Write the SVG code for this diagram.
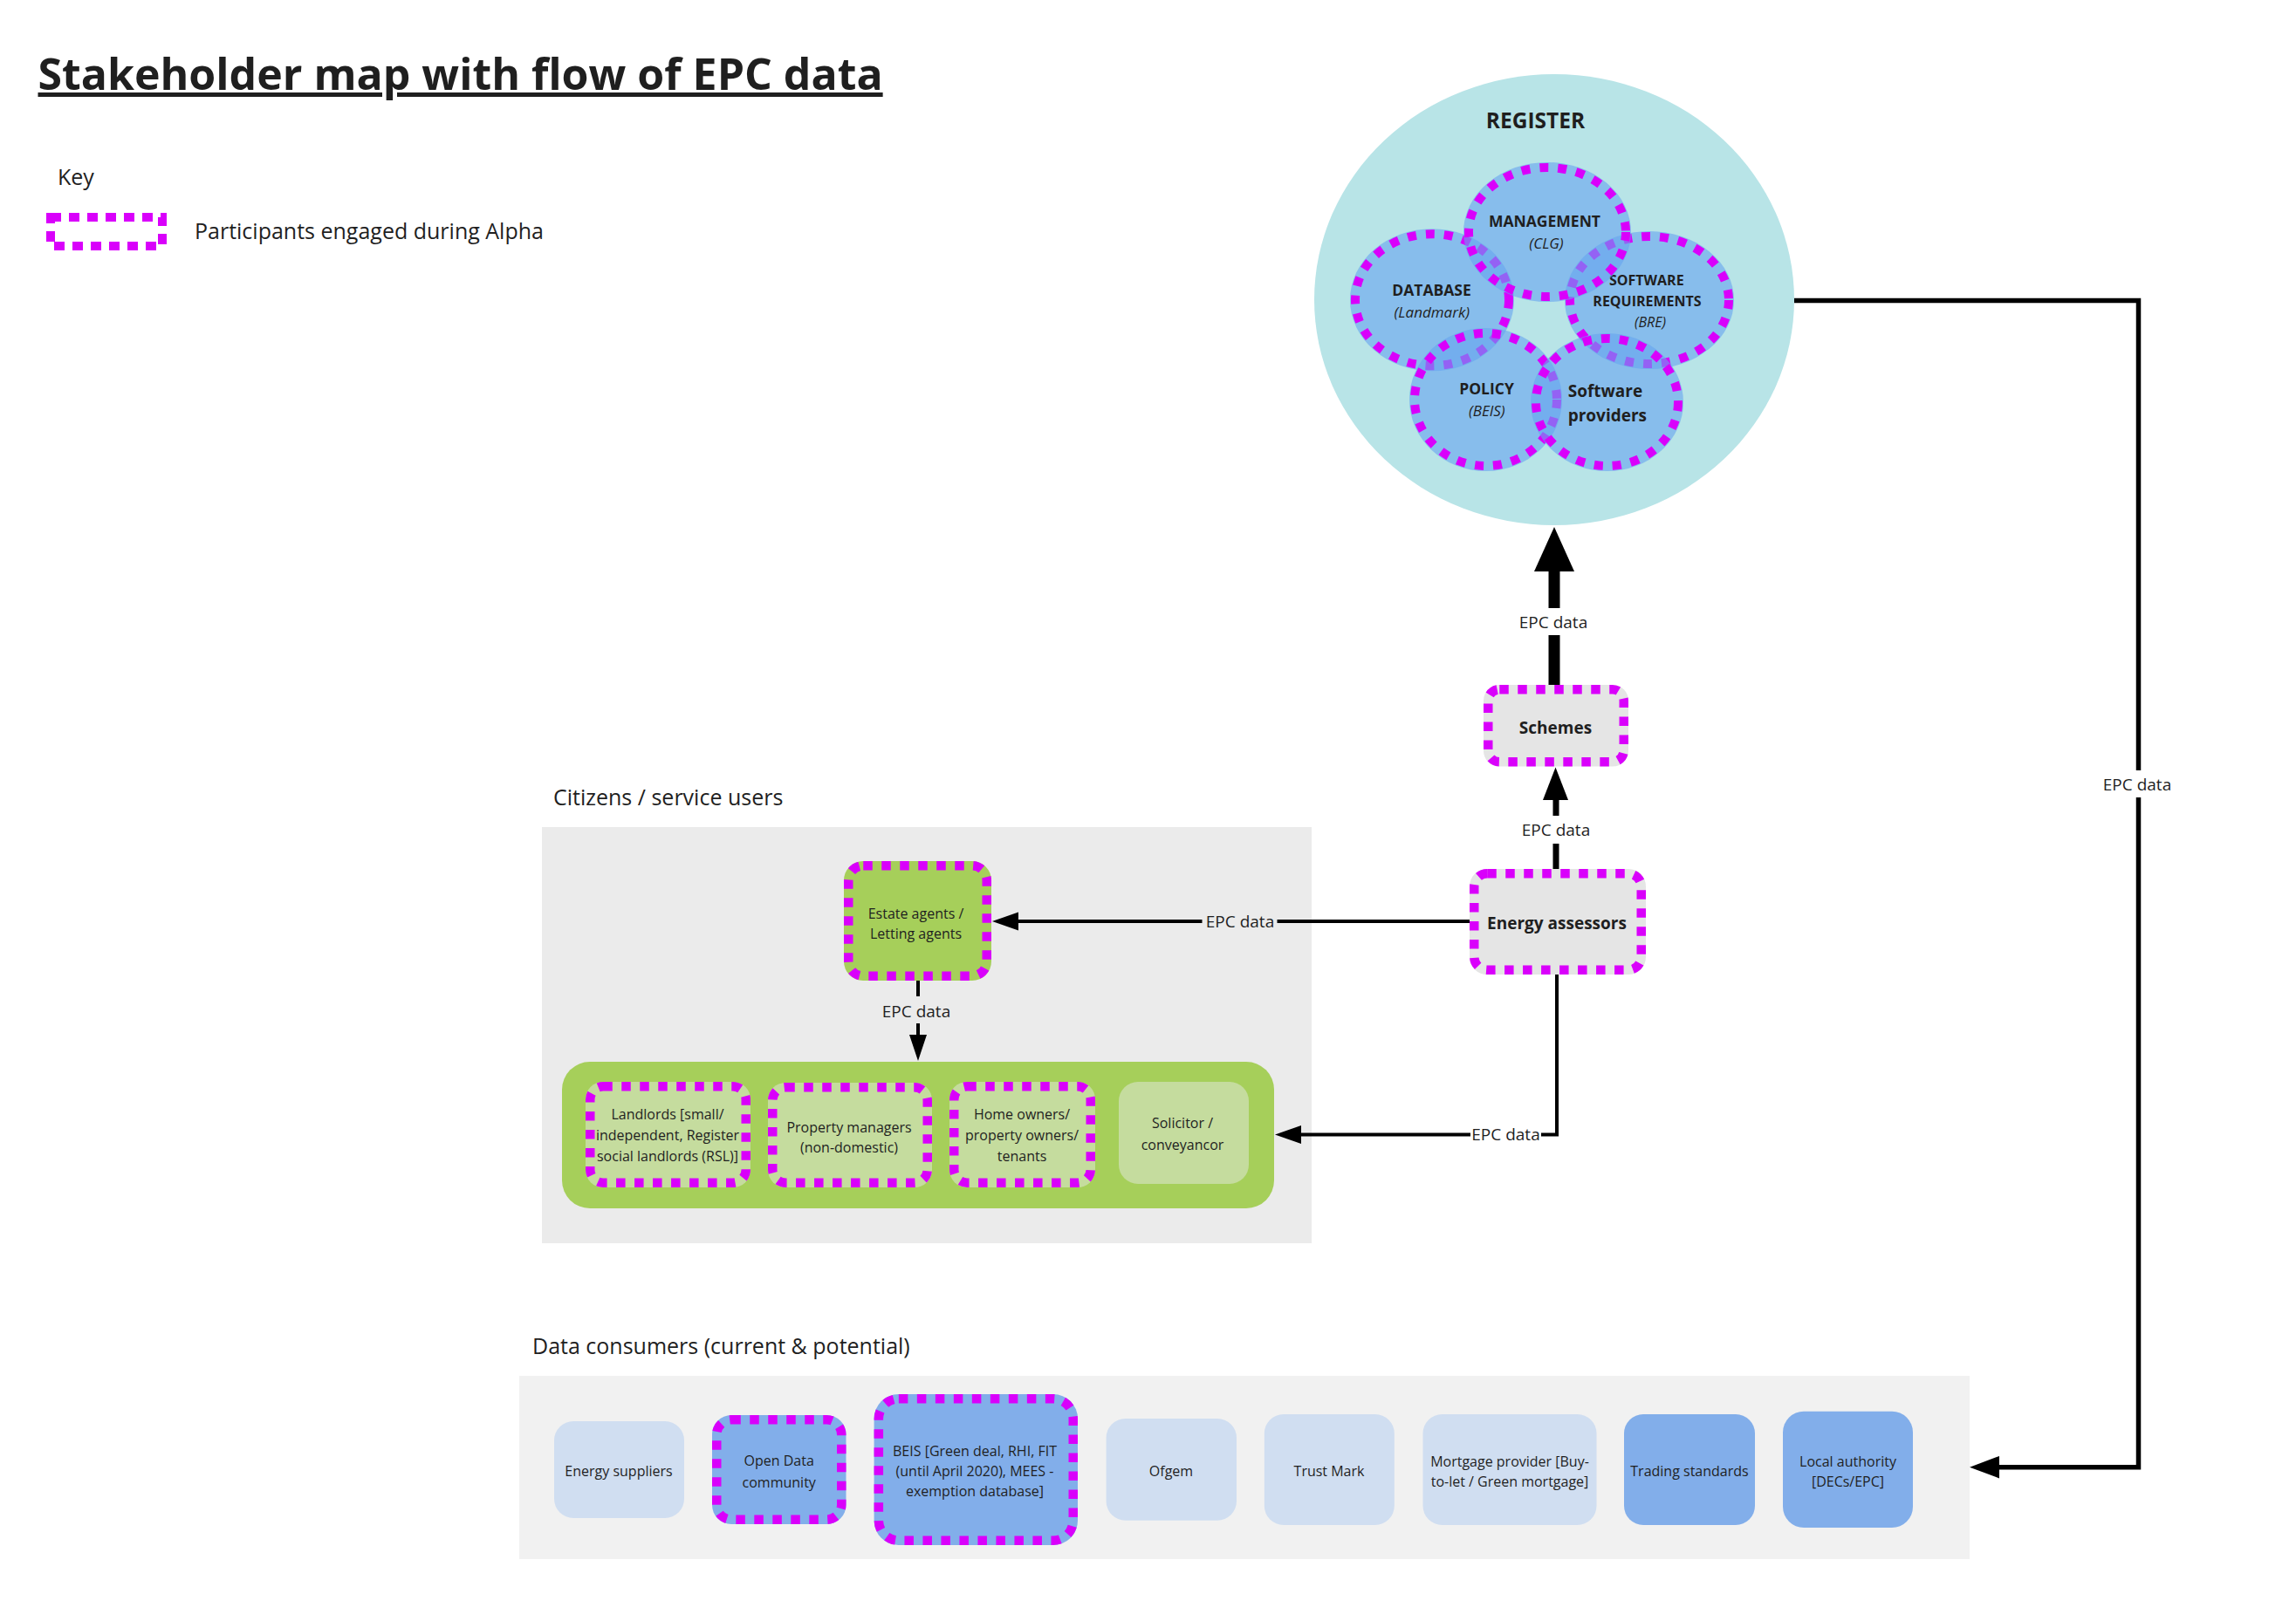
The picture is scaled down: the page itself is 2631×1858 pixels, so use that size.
<svg xmlns="http://www.w3.org/2000/svg" width="2631" height="1858" viewBox="0 0 2631 1858">
<style>
text{font-family:"Open Sans","Noto Sans","DejaVu Sans",sans-serif;fill:#1f1f1f}
.b{font-weight:700}
.it{font-style:italic}
.m{text-anchor:middle}
.s16{font-size:16px}
.s19{font-size:19px}
.s25{font-size:25px}
.dash{fill:none;stroke:#d900fb;stroke-width:10.5;stroke-dasharray:10.5 10.5}
.gray{fill:#e5e5e5}
.green{fill:#a6cf5a}
.lgreen{fill:#c5dc9e}
.lblue{fill:#d0def1}
.mblue{fill:#82aeea}
.circ{fill:#66a3f0;fill-opacity:0.6}
.ln{fill:none;stroke:#000;stroke-width:4}
.ah{fill:#000}
</style>
<rect width="2631" height="1858" fill="#ffffff"/>

<g id="title">
<text x="43.5" y="103" class="b" style="font-size:50px;text-decoration:underline" fill="#222">Stakeholder map with flow of EPC data</text>
</g>

<g id="key">
<text x="66" y="212" class="s25">Key</text>
<rect x="58" y="249" width="128" height="33" class="dash" style="stroke-width:10;stroke-dasharray:12 9"/>
<text x="223" y="274" class="s25">Participants engaged during Alpha</text>
</g>

<g id="areas">
<rect x="621" y="948" width="882" height="477" fill="#ebebeb"/>
<text x="634" y="923" class="s25">Citizens / service users</text>
<rect x="595" y="1577" width="1662" height="210" fill="#f1f1f1"/>
<text x="610" y="1552" class="s25">Data consumers (current &amp; potential)</text>
</g>

<g id="register">
<ellipse cx="1781" cy="343.5" rx="275" ry="258.5" fill="#b8e4e7"/>
<text x="1759.5" y="147" class="b m" style="font-size:24.5px">REGISTER</text>
</g>

<g id="database">
<ellipse cx="1641" cy="343.7" rx="94" ry="81.5" class="circ"/>
<ellipse cx="1641" cy="343.7" rx="88" ry="75.5" class="dash" style="stroke-width:10;stroke-dasharray:10 11"/>
<text x="1640.5" y="339.3" class="b m" style="font-size:17.5px">DATABASE</text>
<text x="1640.8" y="364" class="it m" style="font-size:17px">(Landmark)</text>
</g>

<g id="software-requirements">
<ellipse cx="1890" cy="344" rx="97" ry="79" class="circ"/>
<ellipse cx="1890" cy="344" rx="91" ry="73" class="dash" style="stroke-width:10;stroke-dasharray:10 11"/>
<text x="1886.8" y="327.3" class="b m" style="font-size:16px">SOFTWARE</text>
<text x="1887.5" y="351" class="b m" style="font-size:16px">REQUIREMENTS</text>
<text x="1891" y="375" class="it m" style="font-size:16px">(BRE)</text>
</g>

<g id="management">
<ellipse cx="1773" cy="266" rx="96" ry="80" class="circ"/>
<ellipse cx="1773" cy="266" rx="90" ry="74" class="dash" style="stroke-width:10;stroke-dasharray:10 11"/>
<text x="1770" y="260" class="b m" style="font-size:17.5px">MANAGEMENT</text>
<text x="1772" y="285.3" class="it m" style="font-size:17px">(CLG)</text>
</g>

<g id="policy">
<ellipse cx="1702.5" cy="458" rx="87.5" ry="82" class="circ"/>
<ellipse cx="1702.5" cy="458" rx="81.5" ry="76" class="dash" style="stroke-width:10;stroke-dasharray:10 11"/>
<text x="1703.5" y="452.3" class="b m" style="font-size:17.5px">POLICY</text>
<text x="1703.8" y="476.7" class="it m" style="font-size:17px">(BEIS)</text>
</g>

<g id="software-providers">
<ellipse cx="1841.5" cy="461" rx="87.5" ry="79" class="circ"/>
<ellipse cx="1841.5" cy="461" rx="81.5" ry="73" class="dash" style="stroke-width:10;stroke-dasharray:10 11"/>
<text x="1796.7" y="455" class="b" style="font-size:19px">Software</text>
<text x="1796.7" y="482.7" class="b" style="font-size:19px">providers</text>
</g>

<g id="schemes">
<rect x="1700" y="785" width="166" height="93.5" rx="18" class="gray"/>
<rect x="1705.25" y="790.25" width="155.5" height="83" rx="13" class="dash"/>
<text x="1782.5" y="841" class="b m s19">Schemes</text>
</g>

<g id="energy-assessors">
<rect x="1684" y="996" width="202" height="121" rx="20" class="gray"/>
<rect x="1689.25" y="1001.25" width="191.5" height="110.5" rx="15" class="dash"/>
<text x="1784" y="1065" class="b m s19">Energy assessors</text>
</g>

<g id="estate-agents">
<rect x="967" y="987" width="169" height="137" rx="22" class="green"/>
<rect x="972.25" y="992.25" width="158.5" height="126.5" rx="17" class="dash"/>
<text x="1049.5" y="1052.7" class="m s16">Estate agents /</text>
<text x="1049.5" y="1075.5" class="m s16">Letting agents</text>
</g>

<g id="service-users">
<rect x="644" y="1217" width="816" height="168" rx="32" class="green"/>
</g>

<g id="landlords">
<rect x="671" y="1240" width="189" height="121" rx="20" class="lgreen"/>
<rect x="676.25" y="1245.25" width="178.5" height="110.5" rx="15" class="dash"/>
<text x="765" y="1283" class="m s16">Landlords [small/</text>
<text x="765" y="1307" class="m s16">independent, Register</text>
<text x="765" y="1331" class="m s16">social landlords (RSL)]</text>
</g>

<g id="property-managers">
<rect x="880" y="1241" width="188" height="120" rx="20" class="lgreen"/>
<rect x="885.25" y="1246.25" width="177.5" height="109.5" rx="15" class="dash"/>
<text x="973" y="1297.5" class="m s16">Property managers</text>
<text x="973" y="1320.5" class="m s16">(non-domestic)</text>
</g>

<g id="home-owners">
<rect x="1088" y="1240" width="167" height="121" rx="20" class="lgreen"/>
<rect x="1093.25" y="1245.25" width="156.5" height="110.5" rx="15" class="dash"/>
<text x="1171" y="1283" class="m s16">Home owners/</text>
<text x="1171" y="1307" class="m s16">property owners/</text>
<text x="1171" y="1331" class="m s16">tenants</text>
</g>

<g id="solicitor">
<rect x="1282" y="1240" width="149" height="117" rx="22" class="lgreen"/>
<text x="1355" y="1293" class="m s16">Solicitor /</text>
<text x="1355" y="1317.5" class="m s16">conveyancor</text>
</g>

<g id="energy-suppliers">
<rect x="635" y="1629" width="149" height="111" rx="22" class="lblue"/>
<text x="709" y="1691.5" class="m s16">Energy suppliers</text>
</g>

<g id="open-data">
<rect x="816" y="1622" width="153.5" height="125" rx="22" class="mblue"/>
<rect x="821.25" y="1627.25" width="143" height="114.5" rx="17" class="dash"/>
<text x="892.7" y="1680" class="m s16">Open Data</text>
<text x="892.7" y="1704.5" class="m s16">community</text>
</g>

<g id="beis">
<rect x="1001.6" y="1598" width="233.4" height="173" rx="28" class="mblue"/>
<rect x="1006.85" y="1603.25" width="222.9" height="162.5" rx="23" class="dash"/>
<text x="1117" y="1668.5" class="m s16">BEIS [Green deal, RHI, FIT</text>
<text x="1117" y="1691.5" class="m s16">(until April 2020), MEES -</text>
<text x="1117" y="1715" class="m s16">exemption database]</text>
</g>

<g id="ofgem">
<rect x="1267.6" y="1626" width="149.4" height="116.7" rx="22" class="lblue"/>
<text x="1342" y="1692" class="m s16">Ofgem</text>
</g>

<g id="trust-mark">
<rect x="1448.8" y="1621" width="149" height="127" rx="22" class="lblue"/>
<text x="1523" y="1692" class="m s16">Trust Mark</text>
</g>

<g id="mortgage-provider">
<rect x="1630.5" y="1621" width="199" height="127" rx="22" class="lblue"/>
<text x="1730" y="1681" class="m s16">Mortgage provider [Buy-</text>
<text x="1730" y="1704" class="m s16">to-let / Green mortgage]</text>
</g>

<g id="trading-standards">
<rect x="1861" y="1621" width="150" height="127" rx="22" class="mblue"/>
<text x="1936" y="1692" class="m s16">Trading standards</text>
</g>

<g id="local-authority">
<rect x="2043" y="1617.7" width="149" height="133.3" rx="24" class="mblue"/>
<text x="2117.5" y="1681" class="m s16">Local authority</text>
<text x="2117.5" y="1704" class="m s16">[DECs/EPC]</text>
</g>

<g id="connectors">
<!-- schemes to register -->
<path d="M1781 655V697M1781 728V785" class="ln" style="stroke-width:13"/>
<polygon points="1781,604 1758,655 1804,655" class="ah"/>
<text x="1780" y="720" class="m s19">EPC data</text>
<!-- energy assessors to schemes -->
<path d="M1783 917V935M1783 967V996" class="ln" style="stroke-width:7"/>
<polygon points="1782.5,879.5 1768,917 1797,917" class="ah"/>
<text x="1783" y="958" class="m s19">EPC data</text>
<!-- energy assessors to estate agents -->
<path d="M1684 1056H1463.5M1377.5 1056H1167" class="ln"/>
<polygon points="1137,1056 1167,1045.5 1167,1066.5" class="ah"/>
<text x="1421" y="1063" class="m s19">EPC data</text>
<!-- estate agents to service users -->
<path d="M1052 1124V1142M1052 1173V1186" class="ln"/>
<polygon points="1052,1216 1042,1186 1062,1186" class="ah"/>
<text x="1050" y="1165.5" class="m s19">EPC data</text>
<!-- energy assessors to service users -->
<path d="M1784 1117V1300.5H1766M1685 1300.5H1491" class="ln"/>
<polygon points="1461,1300.5 1491,1290 1491,1311" class="ah"/>
<text x="1725.5" y="1307" class="m s19">EPC data</text>
<!-- register to data consumers -->
<path d="M2056 344.5H2450.5V883M2450.5 914V1681.7H2291" class="ln" style="stroke-width:5.5"/>
<polygon points="2257,1681.7 2291,1669 2291,1694.5" class="ah"/>
<text x="2449" y="906" class="m s19">EPC data</text>
</g>
</svg>
